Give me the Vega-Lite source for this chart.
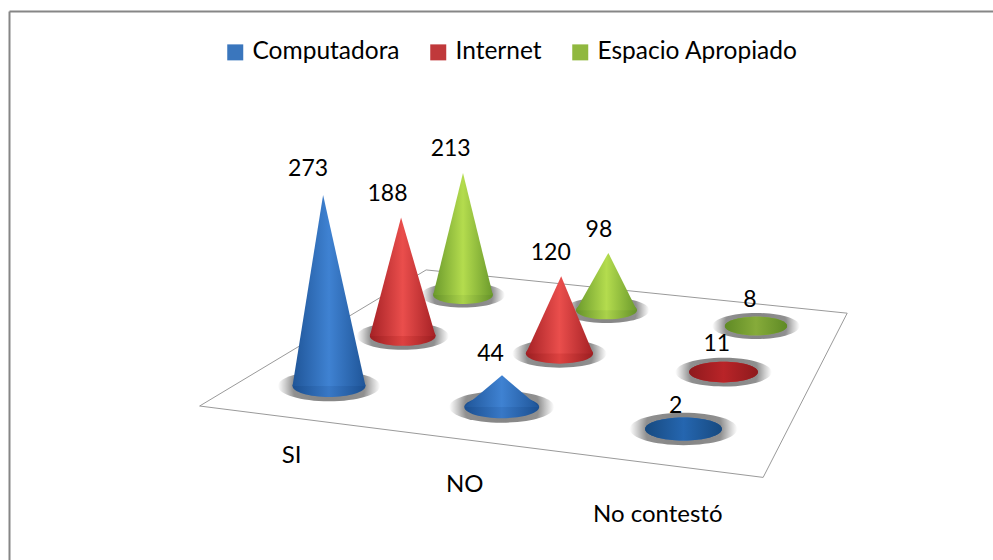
{"$schema":"https://vega.github.io/schema/vega-lite/v6.json","width":984,"height":549,"padding":{"left":9,"top":11,"right":0,"bottom":0},"autosize":{"type":"none"},"background":"white","view":{"stroke":null,"fill":"white"},"config":{"font":"Lato","axis":{"ticks":false,"labels":false,"grid":false,"domain":false}},
"data":{"values":[
{"categoria":"SI","serie":"Computadora","valor":273},{"categoria":"SI","serie":"Internet","valor":188},{"categoria":"SI","serie":"Espacio Apropiado","valor":213},
{"categoria":"NO","serie":"Computadora","valor":44},{"categoria":"NO","serie":"Internet","valor":120},{"categoria":"NO","serie":"Espacio Apropiado","valor":98},
{"categoria":"No contestó","serie":"Computadora","valor":2},{"categoria":"No contestó","serie":"Internet","valor":11},{"categoria":"No contestó","serie":"Espacio Apropiado","valor":8}]},
"transform":[
{"calculate":"indexof(['SI','NO','No contestó'],datum.categoria)/2","as":"u"},
{"calculate":"indexof(['Computadora','Internet','Espacio Apropiado'],datum.serie)/2","as":"v"},
{"calculate":"1-0.04964*datum.u+0.22218*datum.v","as":"den"},
{"calculate":"(320.57*datum.u+236.87*datum.v+329)/datum.den","as":"cx"},
{"calculate":"(21.7*datum.u-25.46*datum.v+386)/datum.den","as":"cy"},
{"calculate":"73/datum.den","as":"ancho"},
{"calculate":"0.7*datum.valor/datum.den","as":"alto"},
{"calculate":"datum.cx+datum.alto*(datum.cx-463)*0.00023","as":"ax"},
{"calculate":"datum.cy-datum.alto","as":"ay"},
{"calculate":"datum.ancho*datum.ancho","as":"base2"},
{"calculate":"1.4*1.4*datum.base2","as":"sombra2"},
{"calculate":"[-1,0,1]","as":"vertices"},
{"calculate":"datum.ax-15+(datum.cx-329)*0.02","as":"lx"},
{"calculate":"datum.ay-21-0.025*datum.alto","as":"ly"}
],
"layer":[
{"data":{"values":[{"esquina":0},{"esquina":1},{"esquina":2},{"esquina":3},{"esquina":4}]},
"transform":[
{"calculate":"[-0.24,1.26,1.26,-0.24,-0.24][datum.esquina]","as":"u"},
{"calculate":"[-0.26,-0.26,1.26,1.26,-0.26][datum.esquina]","as":"v"},
{"calculate":"1-0.04964*datum.u+0.22218*datum.v","as":"den"},
{"calculate":"(320.57*datum.u+236.87*datum.v+329)/datum.den","as":"px"},
{"calculate":"(21.7*datum.u-25.46*datum.v+386)/datum.den","as":"py"}],
"mark":{"type":"line","stroke":"#9a9a9a","strokeWidth":1},
"encoding":{"x":{"field":"px","type":"quantitative","scale":{"domain":[9,993],"nice":false,"zero":false},"axis":{"orient":"top","title":null,"domain":true,"domainColor":"#868686","domainWidth":2,"ticks":false,"labels":false,"grid":false}},"y":{"field":"py","type":"quantitative","scale":{"domain":[560,11],"nice":false,"zero":false},"axis":{"orient":"left","title":null,"domain":true,"domainColor":"#868686","domainWidth":2,"ticks":false,"labels":false,"grid":false}},"order":{"field":"esquina"}}},
{"mark":{"type":"point","filled":true,"opacity":1,"shape":"M-1,0A1,0.3 0 1,0 1,0A1,0.3 0 1,0 -1,0Z","fill":{"gradient":"radial","x1":0.5,"y1":0.5,"r1":0,"x2":0.5,"y2":0.5,"r2":0.5,"stops":[{"offset":0,"color":"#808080"},{"offset":0.7,"color":"#909090"},{"offset":0.85,"color":"#cacaca"},{"offset":1,"color":"#ffffff"}]}},
"encoding":{"x":{"field":"cx","type":"quantitative"},"y":{"field":"cy","type":"quantitative"},"size":{"field":"sombra2","type":"quantitative","scale":null}}},
{"transform":[{"filter":"datum.serie==='Espacio Apropiado'"}],"mark":{"type":"point","filled":true,"opacity":1,"shape":"M-1,0A1,0.3 0 1,0 1,0A1,0.3 0 1,0 -1,0Z","fill":{"gradient":"linear","x1":0,"x2":1,"y1":0,"y2":0,"stops":[{"offset":0,"color":"#65922a"},{"offset":0.5,"color":"#aad24a"},{"offset":1,"color":"#65922a"}]}},
"encoding":{"x":{"field":"cx","type":"quantitative"},"y":{"field":"cy","type":"quantitative"},"size":{"field":"base2","type":"quantitative","scale":null}}},
{"transform":[{"filter":"datum.serie==='Espacio Apropiado'"},{"flatten":["vertices"]},{"calculate":"datum.cx+datum.vertices*datum.ancho/2+(datum.vertices==0?datum.ax-datum.cx:0)","as":"xv"},{"calculate":"datum.vertices==0?datum.ay:datum.cy","as":"yv"}],
"mark":{"type":"area","opacity":1,"fill":{"gradient":"linear","x1":0,"x2":1,"y1":0,"y2":0,"stops":[{"offset":0,"color":"#6b9a2c"},{"offset":0.5,"color":"#b4dc4e"},{"offset":1,"color":"#6b9a2c"}]}},
"encoding":{"x":{"field":"xv","type":"quantitative"},"y":{"field":"yv","type":"quantitative","stack":null},"y2":{"field":"cy"},"detail":{"field":"categoria"}}},
{"transform":[{"filter":"datum.serie==='Espacio Apropiado'&&datum.valor<20"}],"mark":{"type":"point","filled":true,"opacity":1,"shape":"M-1,0A1,0.3 0 1,0 1,0A1,0.3 0 1,0 -1,0Z","fill":{"gradient":"linear","x1":0,"x2":1,"y1":0,"y2":0,"stops":[{"offset":0,"color":"#5f8a25"},{"offset":0.5,"color":"#86ab3a"},{"offset":1,"color":"#5f8a25"}]}},
"encoding":{"x":{"field":"cx","type":"quantitative"},"y":{"field":"cy","type":"quantitative"},"size":{"field":"base2","type":"quantitative","scale":null}}},
{"transform":[{"filter":"datum.serie==='Internet'"}],"mark":{"type":"point","filled":true,"opacity":1,"shape":"M-1,0A1,0.3 0 1,0 1,0A1,0.3 0 1,0 -1,0Z","fill":{"gradient":"linear","x1":0,"x2":1,"y1":0,"y2":0,"stops":[{"offset":0,"color":"#9c1e21"},{"offset":0.5,"color":"#dd4240"},{"offset":1,"color":"#9c1e21"}]}},
"encoding":{"x":{"field":"cx","type":"quantitative"},"y":{"field":"cy","type":"quantitative"},"size":{"field":"base2","type":"quantitative","scale":null}}},
{"transform":[{"filter":"datum.serie==='Internet'"},{"flatten":["vertices"]},{"calculate":"datum.cx+datum.vertices*datum.ancho/2+(datum.vertices==0?datum.ax-datum.cx:0)","as":"xv"},{"calculate":"datum.vertices==0?datum.ay:datum.cy","as":"yv"}],
"mark":{"type":"area","opacity":1,"fill":{"gradient":"linear","x1":0,"x2":1,"y1":0,"y2":0,"stops":[{"offset":0,"color":"#a52125"},{"offset":0.5,"color":"#ea4e4c"},{"offset":1,"color":"#a52125"}]}},
"encoding":{"x":{"field":"xv","type":"quantitative"},"y":{"field":"yv","type":"quantitative","stack":null},"y2":{"field":"cy"},"detail":{"field":"categoria"}}},
{"transform":[{"filter":"datum.serie==='Internet'&&datum.valor<20"}],"mark":{"type":"point","filled":true,"opacity":1,"shape":"M-1,0A1,0.3 0 1,0 1,0A1,0.3 0 1,0 -1,0Z","fill":{"gradient":"linear","x1":0,"x2":1,"y1":0,"y2":0,"stops":[{"offset":0,"color":"#8e1a1d"},{"offset":0.5,"color":"#b92428"},{"offset":1,"color":"#8e1a1d"}]}},
"encoding":{"x":{"field":"cx","type":"quantitative"},"y":{"field":"cy","type":"quantitative"},"size":{"field":"base2","type":"quantitative","scale":null}}},
{"transform":[{"filter":"datum.serie==='Computadora'"}],"mark":{"type":"point","filled":true,"opacity":1,"shape":"M-1,0A1,0.3 0 1,0 1,0A1,0.3 0 1,0 -1,0Z","fill":{"gradient":"linear","x1":0,"x2":1,"y1":0,"y2":0,"stops":[{"offset":0,"color":"#1b4f90"},{"offset":0.5,"color":"#3878c6"},{"offset":1,"color":"#1b4f90"}]}},
"encoding":{"x":{"field":"cx","type":"quantitative"},"y":{"field":"cy","type":"quantitative"},"size":{"field":"base2","type":"quantitative","scale":null}}},
{"transform":[{"filter":"datum.serie==='Computadora'"},{"flatten":["vertices"]},{"calculate":"datum.cx+datum.vertices*datum.ancho/2+(datum.vertices==0?datum.ax-datum.cx:0)","as":"xv"},{"calculate":"datum.vertices==0?datum.ay:datum.cy","as":"yv"}],
"mark":{"type":"area","opacity":1,"fill":{"gradient":"linear","x1":0,"x2":1,"y1":0,"y2":0,"stops":[{"offset":0,"color":"#1f5598"},{"offset":0.5,"color":"#3f82d2"},{"offset":1,"color":"#1f5598"}]}},
"encoding":{"x":{"field":"xv","type":"quantitative"},"y":{"field":"yv","type":"quantitative","stack":null},"y2":{"field":"cy"},"detail":{"field":"categoria"}}},
{"transform":[{"filter":"datum.serie==='Computadora'&&datum.valor<20"}],"mark":{"type":"point","filled":true,"opacity":1,"shape":"M-1,0A1,0.3 0 1,0 1,0A1,0.3 0 1,0 -1,0Z","fill":{"gradient":"linear","x1":0,"x2":1,"y1":0,"y2":0,"stops":[{"offset":0,"color":"#174a80"},{"offset":0.5,"color":"#2566b0"},{"offset":1,"color":"#174a80"}]}},
"encoding":{"x":{"field":"cx","type":"quantitative"},"y":{"field":"cy","type":"quantitative"},"size":{"field":"base2","type":"quantitative","scale":null}}},
{"mark":{"type":"text","font":"Lato","fontSize":23,"color":"black","align":"center","baseline":"middle"},
"encoding":{"x":{"field":"lx","type":"quantitative"},"y":{"field":"ly","type":"quantitative"},"text":{"field":"valor","type":"quantitative"}}},
{"transform":[{"filter":"datum.serie==='Computadora'"},{"calculate":"(1-0.04964*datum.u-0.0555)","as":"d2"},{"calculate":"(320.57*datum.u-59.2+329)/datum.d2+6-8*datum.u-20*datum.u*(1-datum.u)","as":"tx"},{"calculate":"(21.7*datum.u+6.4+386)/datum.d2+41+11*datum.u","as":"ty"}],
"mark":{"type":"text","font":"Lato","fontSize":24,"color":"black","align":"center","baseline":"middle"},
"encoding":{"x":{"field":"tx","type":"quantitative"},"y":{"field":"ty","type":"quantitative"},"text":{"field":"categoria","type":"nominal"}}},
{"mark":{"type":"point","filled":true,"opacity":1},
"encoding":{"x":{"field":"cx","type":"quantitative"},"y":{"field":"cy","type":"quantitative"},"size":{"value":0},
"color":{"field":"serie","type":"nominal","scale":{"domain":["Computadora","Internet","Espacio Apropiado"],"range":["#3a76bd","#c0393b","#90b83f"]},
"legend":{"title":null,"orient":"none","legendX":214,"legendY":29,"direction":"horizontal","columns":3,"symbolType":"square","symbolSize":256,"symbolOpacity":1,"symbolStrokeWidth":0,"labelFont":"Lato","labelFontSize":24.5,"labelColor":"black","labelOffset":5,"columnPadding":26,"labelLimit":300}}}}
]}
